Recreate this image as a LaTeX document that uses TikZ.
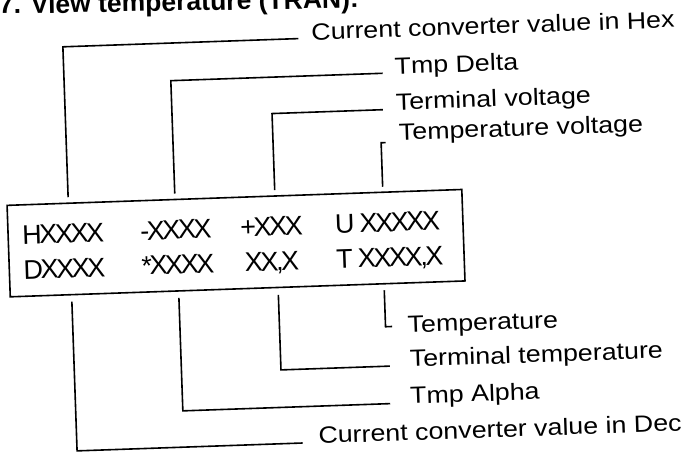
\documentclass[tikz,border=0pt]{standalone}
\usepackage{fontspec}
\setmainfont{Liberation Sans}
\newfontfamily\lblfont[FakeStretch=1.14]{Liberation Sans}
\newfontfamily\boxfont[LetterSpace=-9]{Liberation Sans}
\newfontfamily\ttlfont{Liberation Sans}
\tikzset{
  lbl/.style={anchor=base west, inner sep=0pt, font=\lblfont\fontsize{23.5}{28}\selectfont},
  disp/.style={anchor=base west, inner sep=0pt, font=\boxfont\fontsize{27}{30}\selectfont},
  conn/.style={line width=1.6pt, line join=miter},
  frame/.style={line width=1.6pt}
}
\begin{document}
\begin{tikzpicture}[x=1pt,y=-1pt]
\useasboundingbox (0,0) rectangle (695,452);
\clip (0,0) rectangle (695,452);
\node[anchor=base west, inner sep=0pt, rotate=1, font=\ttlfont\bfseries\fontsize{26.5}{30}\selectfont] (title) at (-1,14) {7. View temperature (TRAN):};
\begin{scope}[rotate around={2:(347.5,226)}, transform shape]
  % display box
  \draw[frame] (8,193.5) rectangle (463,285);
  \node[disp] (h)  at (22,233)  {HXXXX};
  \node[disp] (dl) at (140,233) {-XXXX};
  \node[disp] (tv) at (240,233) {+XXX};
  \node[disp] (u)  at (335,233) {U XXXXX};
  \node[disp] (d)  at (22,268)  {DXXXX};
  \node[disp] (al) at (140,268) {*XXXX};
  \node[disp] (tt) at (243.5,268) {XX,X};
  \node[disp] (t)  at (335,268) {T XXXX,X};
  % labels
  \node[lbl] (lhex)   at (318,39)    {Current converter value in Hex};
  \node[lbl] (ldelta) at (400,76)    {Tmp Delta};
  \node[lbl] (ltv)    at (400,112)   {Terminal voltage};
  \node[lbl] (lvolt)  at (402,142)   {Temperature voltage};
  \node[lbl] (ltemp)  at (404,335)   {Temperature};
  \node[lbl] (ltt)    at (405,369)   {Terminal temperature};
  \node[lbl] (lalpha) at (404,406)   {Tmp Alpha};
  \node[lbl] (ldec)   at (311,442.5) {Current converter value in Dec};
  % connector ends
  \coordinate (hexA) at (305,37);     \coordinate (hexB) at (69.3,187.5);
  \coordinate (delA) at (388,74.6);   \coordinate (delB) at (176,187.5);
  \coordinate (tvA)  at (387,111);    \coordinate (tvB)  at (276,187.5);
  \coordinate (vA)   at (388.5,144);  \coordinate (vB)   at (384,188);
  \coordinate (tA)   at (388.5,328);  \coordinate (tB)   at (382,291.5);
  \coordinate (ttA)  at (385,367.5);  \coordinate (ttB)  at (276,292.5);
  \coordinate (alA)  at (384,405);    \coordinate (alB)  at (176.5,292);
  \coordinate (decA) at (295,441.3);  \coordinate (decB) at (69.4,292);
  \draw[conn] (hexA) -| (hexB);
  \draw[conn] (delA) -| (delB);
  \draw[conn] (tvA) -| (tvB);
  \draw[conn] (vA) -| (vB);
  \draw[conn] (tA) -| (tB);
  \draw[conn] (ttA) -| (ttB);
  \draw[conn] (alA) -| (alB);
  \draw[conn] (decA) -| (decB);
\end{scope}
\end{tikzpicture}
\end{document}
